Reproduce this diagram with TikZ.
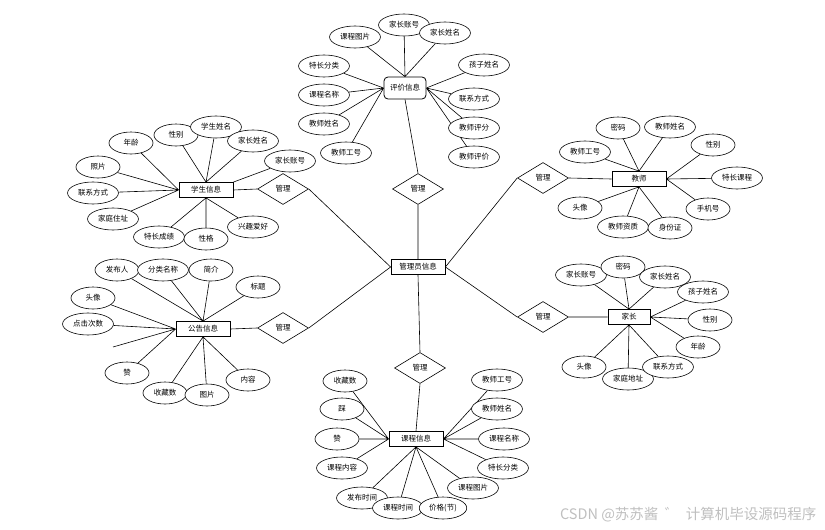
\documentclass[tikz,border=0pt]{standalone}
\usepackage{fontspec}
\newfontfamily\cjk{Noto Sans CJK SC}
\usetikzlibrary{shapes.geometric,backgrounds}

\begin{document}
\begin{tikzpicture}[x=1pt,y=-1pt,
  ent/.style={rectangle,draw,fill=white,line width=0.8pt,minimum width=54pt,minimum height=15pt,inner sep=1pt,font=\cjk\fontsize{7.5}{8}\selectfont},
  attr/.style={ellipse,draw,fill=white,line width=0.6pt,minimum width=44pt,minimum height=22pt,inner xsep=3pt,inner ysep=1pt,font=\cjk\fontsize{7.5}{8}\selectfont},
  rel/.style={diamond,draw,fill=white,line width=0.6pt,minimum width=51pt,minimum height=31pt,inner sep=0pt,font=\cjk\fontsize{7.5}{8}\selectfont},
  ln/.style={line width=0.6pt}
]
  \useasboundingbox (0,0) rectangle (825,530);
  % 管理员 + 关系
  \node[ent] (gly) at (418,267) {管理员信息};
  \node[rel] (gl1) at (283,189) {管理};
  \node[rel] (gl2) at (283,328) {管理};
  \node[rel] (gl3) at (418,189) {管理};
  \node[rel] (gl4) at (543,178) {管理};
  \node[rel] (gl5) at (543,317) {管理};
  \node[rel] (gl6) at (420,368) {管理};

  % 评价信息
  \node[ent,rounded corners=4pt,minimum width=42pt,minimum height=22pt] (pj) at (405,88) {评价信息};
  \node[attr] (pj1) at (355,37) {课程图片};
  \node[attr] (pj2) at (404,25) {家长账号};
  \node[attr] (pj3) at (445,33) {家长姓名};
  \node[attr] (pj4) at (324,66) {特长分类};
  \node[attr] (pj5) at (324,95) {课程名称};
  \node[attr] (pj6) at (324,124) {教师姓名};
  \node[attr] (pj8) at (484,65) {孩子姓名};
  \node[attr] (pj9) at (474,99) {联系方式};
  \node[attr] (pj10) at (474,128) {教师评分};
  \node[attr] (pj11) at (474,157) {教师评价};

  % 学生信息
  \node[ent] (xs) at (206,190) {学生信息};
  \node[attr] (xs1) at (131,143) {年龄};
  \node[attr] (xs2) at (98,167) {照片};
  \node[attr] (xs3) at (93,193) {联系方式};
  \node[attr] (xs4) at (113,219) {家庭住址};
  \node[attr] (xs5) at (176,135) {性别};
  \node[attr] (xs6) at (216,127) {学生姓名};
  \node[attr] (xs7) at (253,141) {家长姓名};
  \node[attr] (xs8) at (290,161) {家长账号};
  \node[attr] (xs9) at (159,237) {特长成绩};
  \node[attr] (xs10) at (206,239) {性格};
  \node[attr] (xs11) at (253,227) {兴趣爱好};
  \node[attr] (pj7) at (346,153) {教师工号};

  % 公告信息
  \node[ent] (gg) at (203,329) {公告信息};
  \node[attr] (gg1) at (117,270) {发布人};
  \node[attr] (gg2) at (163,270) {分类名称};
  \node[attr] (gg3) at (211,270) {简介};
  \node[attr] (gg4) at (258,287) {标题};
  \node[attr] (gg5) at (93,298) {头像};
  \node[attr] (gg6) at (88,324) {点击次数};
  \node[attr] (gg7) at (127,373) {赞};
  \coordinate (gg0) at (113,347);
  \node[attr] (gg8) at (165,393) {收藏数};
  \node[attr] (gg9) at (207,395) {图片};
  \node[attr] (gg10) at (248,380) {内容};

  % 课程信息
  \node[ent] (kc) at (416,439) {课程信息};
  \node[attr] (kc1) at (345,381) {收藏数};
  \node[attr] (kc2) at (342,409) {踩};
  \node[attr] (kc3) at (337,439) {赞};
  \node[attr] (kc4) at (342,468) {课程内容};
  \node[attr] (kc5) at (362,498) {发布时间};
  \node[attr] (kc6) at (398,508) {课程时间};
  \node[attr] (kc7) at (443,508) {价格(节)};
  \node[attr] (kc8) at (473,488) {课程图片};
  \node[attr] (kc9) at (503,468) {特长分类};
  \node[attr] (kc10) at (504,439) {课程名称};
  \node[attr] (kc11) at (497,409) {教师姓名};
  \node[attr] (kc12) at (497,380) {教师工号};

  % 教师
  \node[ent] (js) at (639,179) {教师};
  \node[attr] (js1) at (585,152) {教师工号};
  \node[attr] (js2) at (618,128) {密码};
  \node[attr] (js3) at (670,127) {教师姓名};
  \node[attr] (js4) at (713,145) {性别};
  \node[attr] (js5) at (737,178) {特长课程};
  \node[attr] (js6) at (708,209) {手机号};
  \node[attr] (js7) at (580,208) {头像};
  \node[attr] (js8) at (623,227) {教师资质};
  \node[attr] (js9) at (670,228) {身份证};

  % 家长
  \node[ent,minimum width=42pt] (jz) at (629,317) {家长};
  \node[attr] (jz1) at (581,275) {家长账号};
  \node[attr] (jz2) at (623,267) {密码};
  \node[attr] (jz3) at (665,277) {家长姓名};
  \node[attr] (jz4) at (703,292) {孩子姓名};
  \node[attr] (jz5) at (710,320) {性别};
  \node[attr] (jz6) at (698,347) {年龄};
  \node[attr] (jz7) at (584,367) {头像};
  \node[attr] (jz8) at (628,379) {家庭地址};
  \node[attr] (jz9) at (668,367) {联系方式};

  \node[font=\cjk\fontsize{14.5}{16}\selectfont,text=gray!50,anchor=east] (wm) at (820,515) {CSDN @苏苏酱\ \ ゛\ \ 计算机毕设源码程序};

  \begin{scope}[on background layer]
    \draw[ln] (gl1.east) -- (gly.west) (gl2.east) -- (gly.west) (gl3.south) -- (gly.north)
      (gly.south) -- (gl6.north) (gly.east) -- (gl4.west) (gly.east) -- (gl5.west);
    \draw[ln] (pj.south) -- (gl3.north) (xs.east) -- (gl1.west) (gg.east) -- (gl2.west)
      (gl6.south) -- (kc.north) (gl4.east) -- (js.west) (gl5.east) -- (jz.west);
    % 评价信息
    \draw[ln] (pj1) -- (pj.north) (pj2) -- (pj.north) (pj3) -- (pj.north);
    \draw[ln] (pj4) -- (pj.west) (pj5) -- (pj.west) (pj6) -- (pj.west) (pj7) -- (pj.west);
    \draw[ln] (pj8) -- (pj.east) (pj9) -- (pj.east) (pj10) -- (pj.east) (pj11) -- (pj.east);
    % 学生信息
    \draw[ln] (xs1) -- (xs.west) (xs2) -- (xs.west) (xs3) -- (xs.west) (xs4) -- (xs.west);
    \draw[ln] (xs5) -- (xs.north) (xs6) -- (xs.north) (xs7) -- (xs.north) (xs8) -- (xs.north east);
    \draw[ln] (xs9) -- (xs.south) (xs10) -- (xs.south) (xs11) -- (xs.south);
    % 公告信息
    \draw[ln] (gg1) -- (gg.north) (gg2) -- (gg.north) (gg3) -- (gg.north) (gg4) -- (gg.north);
    \draw[ln] (gg5) -- (gg.west) (gg6) -- (gg.west) (gg7) -- (gg.west) (gg0) -- (gg.west);
    \draw[ln] (gg8) -- (gg.south) (gg9) -- (gg.south) (gg10) -- (gg.south);
    % 课程信息
    \draw[ln] (kc1) -- (kc.west) (kc2) -- (kc.west) (kc3) -- (kc.west) (kc4) -- (kc.west);
    \draw[ln] (kc5) -- (kc.south) (kc6) -- (kc.south) (kc7) -- (kc.south) (kc8) -- (kc.south);
    \draw[ln] (kc9) -- (kc.east) (kc10) -- (kc.east) (kc11) -- (kc.east) (kc12) -- (kc.east);
    % 教师
    \draw[ln] (js1) -- (js.north) (js2) -- (js.north) (js3) -- (js.north);
    \draw[ln] (js4) -- (js.east) (js5) -- (js.east) (js6) -- (js.east);
    \draw[ln] (js7) -- (js.south) (js8) -- (js.south) (js9) -- (js.south);
    % 家长
    \draw[ln] (jz1) -- (jz.north) (jz2) -- (jz.north) (jz3) -- (jz.north);
    \draw[ln] (jz4) -- (jz.east) (jz5) -- (jz.east) (jz6) -- (jz.east);
    \draw[ln] (jz7) -- (jz.south) (jz8) -- (jz.south) (jz9) -- (jz.south);
  \end{scope}
\end{tikzpicture}
\end{document}
